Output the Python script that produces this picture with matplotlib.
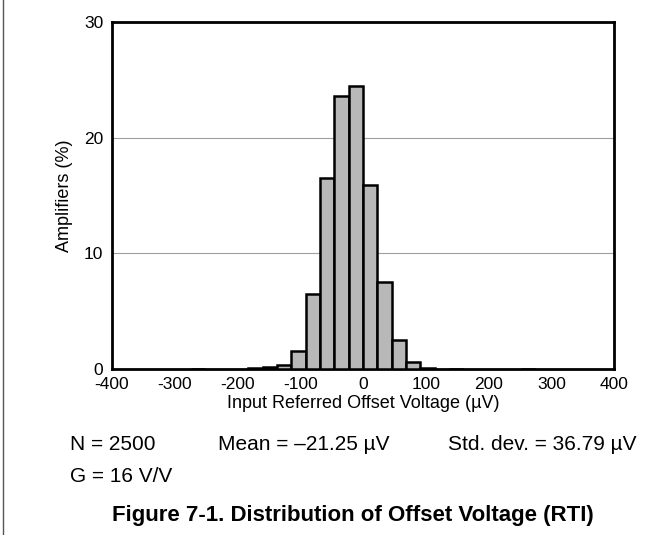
import matplotlib
matplotlib.use("Agg")
import matplotlib.pyplot as plt

plt.rcParams["font.family"] = ["Liberation Sans", "DejaVu Sans"]
plt.rcParams["axes.unicode_minus"] = False

ancho = 22.8
bins = [-12, -8, -7, -6, -5, -4, -3, -2, -1, 0, 1, 2, 3, 4, 6, 11]
pct = [0.05, 0.08, 0.15, 0.35, 1.6, 6.5, 16.5, 23.6, 24.5, 15.9, 7.5, 2.5, 0.6, 0.1, 0.05, 0.05]
xticks = [-400, -300, -200, -100, 0, 100, 200, 300, 400]

fig = plt.figure(figsize=(6.65, 5.35), dpi=100)
ax = fig.add_axes([0.168, 0.310, 0.756, 0.649])
ax.bar([b * ancho for b in bins], pct, ancho, align="edge", color="#b8b8b8",
       edgecolor="black", linewidth=1.8, zorder=3)
ax.set_xlim(-400, 400)
ax.set_ylim(0, 30)
ax.set_xticks(xticks)
ax.set_yticks([0, 10, 20, 30])
ax.yaxis.grid(True, color="#a0a0a0", linewidth=0.8, zorder=0)
ax.tick_params(length=0, labelsize=12.5, pad=6)
for s in ax.spines.values():
    s.set_linewidth(2)
ax.set_xlabel("Input Referred Offset Voltage (µV)", fontsize=13, labelpad=2)
ax.set_ylabel("Amplifiers (%)", fontsize=13, labelpad=8)

fig.text(70 / 665, 1 - 444 / 535, "N = 2500", fontsize=15, va="center")
fig.text(218 / 665, 1 - 444 / 535, "Mean = –21.25 µV", fontsize=15, va="center")
fig.text(448 / 665, 1 - 444 / 535, "Std. dev. = 36.79 µV", fontsize=15, va="center")
fig.text(70 / 665, 1 - 476 / 535, "G = 16 V/V", fontsize=15, va="center")
fig.text(353 / 665, 1 - 516 / 535, "Figure 7-1. Distribution of Offset Voltage (RTI)",
         fontsize=16, fontweight="bold", ha="center", va="center")
fig.add_artist(plt.Line2D([0.005, 0.005], [0, 1], color="#555555", linewidth=1))

fig.savefig("out.png", dpi=100)
